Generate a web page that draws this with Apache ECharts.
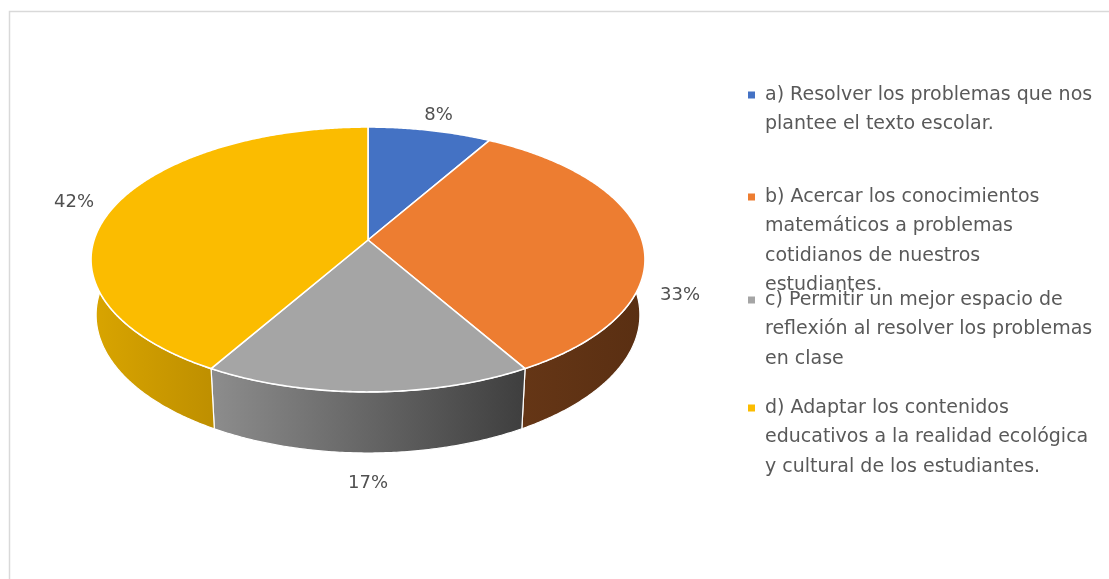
<!DOCTYPE html>
<html><head><meta charset="utf-8">
<script src="https://cdn.jsdelivr.net/npm/echarts@6/dist/echarts.min.js"></script>
<style>html,body{margin:0;padding:0;background:#fff}#c{width:1109px;height:579px}</style>
</head><body><div id="c"></div>
<script>
// ---- data ----
const categories = [
  'a) Resolver los problemas que nos\nplantee el texto escolar.',
  'b) Acercar los conocimientos\nmatemáticos a problemas\ncotidianos de nuestros\nestudiantes.',
  'c) Permitir un mejor espacio de\nreflexión al resolver los problemas\nen clase',
  'd) Adaptar los contenidos\neducativos a la realidad ecológica\ny cultural de los estudiantes.'
];
const values = [8.33, 33.33, 16.67, 41.67];

// ---- styles ----
const topColors = ['#4472C4', '#ED7D31', '#A5A5A5', '#FBBC00'];
const wallColors = [['#2F528F', '#2F528F'], ['#653616', '#5A2F12'], ['#8C8C8C', '#3F3F3F'], ['#D8A400', '#BE8F00']];
const FONT = '"DejaVu Sans", "Open Sans", sans-serif';

// ---- 3D projection (perspective view of a tilted disk) ----
const V = {cx: 368, cy: 240, F: 1641, D: 5.99, sa: 0.473, ca: 0.881, H: 0.232};
function proj(r, phi, h) { // phi: clockwise from the far side; h: height (0 top, negative down)
  const u = r * Math.sin(phi), v = -r * Math.cos(phi);
  const zc = v * V.ca + h * V.sa;
  const s = v * V.sa - h * V.ca;
  const w = V.D - zc;
  return [V.cx + V.F * u / w, V.cy + V.F * s / w];
}
const total = values.reduce((a, b) => a + b, 0);
const starts = [], spans = [];
let acc = 0;
values.forEach(v => { starts.push(acc / total * 2 * Math.PI); spans.push(v / total * 2 * Math.PI); acc += v; });

function arc(i, h, reverse) {
  const a0 = starts[i], a1 = a0 + spans[i];
  const n = Math.max(2, Math.ceil((a1 - a0) / (Math.PI / 360)));
  const pts = [];
  for (let k = 0; k <= n; k++) {
    const t = reverse ? n - k : k;
    pts.push(proj(1, a0 + (a1 - a0) * t / n, h));
  }
  return pts;
}

function renderWall(params) {
  const i = params.dataIndex;
  const pts = arc(i, 0, false).concat(arc(i, -V.H, true));
  let xmin = Infinity, xmax = -Infinity;
  const a0 = starts[i], a1 = a0 + spans[i];
  for (let k = 0; k <= 60; k++) {
    const phi = a0 + (a1 - a0) * k / 60;
    if (-Math.cos(phi) >= -0.05) {
      const p = proj(1, phi, -V.H);
      xmin = Math.min(xmin, p[0]); xmax = Math.max(xmax, p[0]);
    }
  }
  if (!isFinite(xmin)) { xmin = 0; xmax = 1; }
  return {
    type: 'polygon',
    shape: {points: pts},
    style: {
      fill: new echarts.graphic.LinearGradient(xmin, 0, xmax, 0, [
        {offset: 0, color: wallColors[i][0]}, {offset: 1, color: wallColors[i][1]}
      ], true),
      stroke: '#ffffff', lineWidth: 1.2, lineJoin: 'round'
    }
  };
}

function makeTopRender(i) {
  return function () {
    const pts = [proj(0, 0, 0)].concat(arc(i, 0, false));
    const mid = starts[i] + spans[i] / 2;
    const front = -Math.cos(mid) > -0.01;
    const lp = proj(1.16, mid, front ? -V.H : 0);
    return {
      type: 'group',
      children: [
        {type: 'polygon', shape: {points: pts},
         style: {fill: topColors[i], stroke: '#ffffff', lineWidth: 1.6, lineJoin: 'round'}},
        {type: 'text', z2: 10,
         style: {text: Math.round(values[i] / total * 100) + '%', x: lp[0], y: lp[1],
                 align: 'center', verticalAlign: 'middle', fill: '#505050',
                 fontSize: 18, fontFamily: FONT}}
      ]
    };
  };
}

// legend: icon aligned with the first text line (icon path padded downwards)
const LH = 29.5;
const firstLineY = [95, 197, 300, 408];
const legends = categories.map((name, i) => {
  const n = name.split('\n').length;
  const ih = 7 + (n - 1) * LH;
  return {
    data: [name], left: 748, top: firstLineY[i] - LH / 2, padding: 0,
    icon: 'path://M0,0L7,0L7,7L0,7Z M0,' + ih + 'L0.01,' + ih + 'Z',
    itemWidth: 7, itemHeight: ih, itemGap: 0, selectedMode: false,
    textStyle: {fontFamily: FONT, fontSize: 19, color: '#595959', lineHeight: LH,
                padding: [0, 0, 0, 5]}
  };
});

const series = [{
  type: 'custom', name: 'walls', coordinateSystem: 'none', z: 1, silent: true,
  data: values.map((v, i) => [i, v]), renderItem: renderWall
}];
categories.forEach((name, i) => {
  series.push({
    type: 'custom', name: name, coordinateSystem: 'none', z: 2, silent: true,
    itemStyle: {color: topColors[i]},
    data: [[i, values[i]]], renderItem: makeTopRender(i)
  });
});

const chart = echarts.init(document.getElementById('c'));
chart.setOption({
  animation: false,
  backgroundColor: '#ffffff',
  graphic: [{type: 'rect', shape: {x: 9.5, y: 11.5, width: 1300, height: 800},
             style: {fill: 'none', stroke: '#D9D9D9', lineWidth: 1.5}, silent: true}],
  legend: legends,
  series: series
});
</script></body></html>
